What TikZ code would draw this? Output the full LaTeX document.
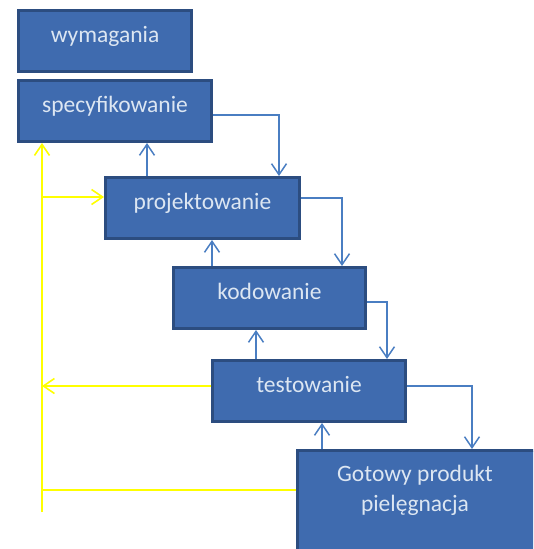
\documentclass[tikz,border=0pt]{standalone}
\usepackage{fontspec}
\setmainfont{Carlito}
\usetikzlibrary{arrows.meta}
\definecolor{boxfill}{HTML}{3F6BAF}
\definecolor{boxline}{HTML}{2C4D80}
\definecolor{boxtext}{HTML}{DCE6F2}
\definecolor{conn}{HTML}{4A7EC2}
\definecolor{fb}{HTML}{FFFF00}
\tikzset{
  stagebox/.style={draw=boxline, fill=boxfill, line width=3pt, rectangle,
    minimum height=61pt, inner sep=0pt, text=boxtext,
    font=\fontsize{23.5}{30}\selectfont, text height=8pt, text depth=6pt},
  flow/.style={draw=conn, line width=1.5pt, -{Straight Barb[length=11pt,width=15pt,line width=1.5pt]}},
  back/.style={draw=fb, line width=1.6pt, -{Straight Barb[length=11pt,width=15pt,line width=1.6pt]}},
  backplain/.style={draw=fb, line width=1.6pt},
  gtxt/.style={text=boxtext, font=\fontsize{23.5}{30}\selectfont, align=center, inner sep=0pt}
}
\begin{document}
\begin{tikzpicture}[x=1pt, y=-1pt]
\useasboundingbox (0,0) rectangle (533,549);
\clip (0,0) rectangle (533,549);

\node[stagebox, minimum width=173pt] (wym) at (105,41) {wymagania};
\node[stagebox, minimum width=193pt] (spec) at (115,111) {specyfikowanie};
\node[stagebox, minimum width=194pt] (proj) at (202.5,208) {projektowanie};
\node[stagebox, minimum width=192pt] (kod) at (269.5,298) {kodowanie};
\node[stagebox, minimum width=193pt] (test) at (309,391) {testowanie};
\node[stagebox, minimum width=250pt, minimum height=118pt,
  label={[gtxt, anchor=north, xshift=-7.5pt, yshift=-15.5pt]north:{Gotowy produkt\\pielęgnacja}}] (got) at (422.5,509.5) {};

% forward (downward) connectors
\draw[flow] ([yshift=-4pt]spec.east) -| ([xshift=76.5pt]proj.north);
\draw[flow] ([yshift=10pt]proj.east) -| ([xshift=72.5pt]kod.north);
\draw[flow] ([yshift=-4pt]kod.east) -| ([xshift=78pt]test.north);
\draw[flow] ([yshift=5pt]test.east) -| ([xshift=49.5pt]got.north);

% upward connectors
\path ([xshift=-55.5pt]proj.north) coordinate (pu);
\draw[flow] (pu) -- (pu |- spec.south);
\path ([xshift=-57.5pt]kod.north) coordinate (ku);
\draw[flow] (ku) -- (ku |- proj.south);
\path ([xshift=-53pt]test.north) coordinate (tu);
\draw[flow] (tu) -- (tu |- kod.south);
\path ([xshift=-100.5pt]got.north) coordinate (gu);
\draw[flow] (gu) -- (gu |- test.south);

% yellow feedback lines
\coordinate (ybot) at (42,512);
\draw[back] (ybot) -- (ybot |- spec.south);
\path ([yshift=11pt]proj.west) coordinate (pw);
\draw[back] (pw -| ybot) -- (pw);
\path ([yshift=5pt]test.west) coordinate (tw);
\draw[back] (tw) -- (tw -| ybot);
\path ([yshift=19.5pt]got.west) coordinate (gw);
\draw[backplain] (gw) -- (gw -| ybot);
\end{tikzpicture}
\end{document}
